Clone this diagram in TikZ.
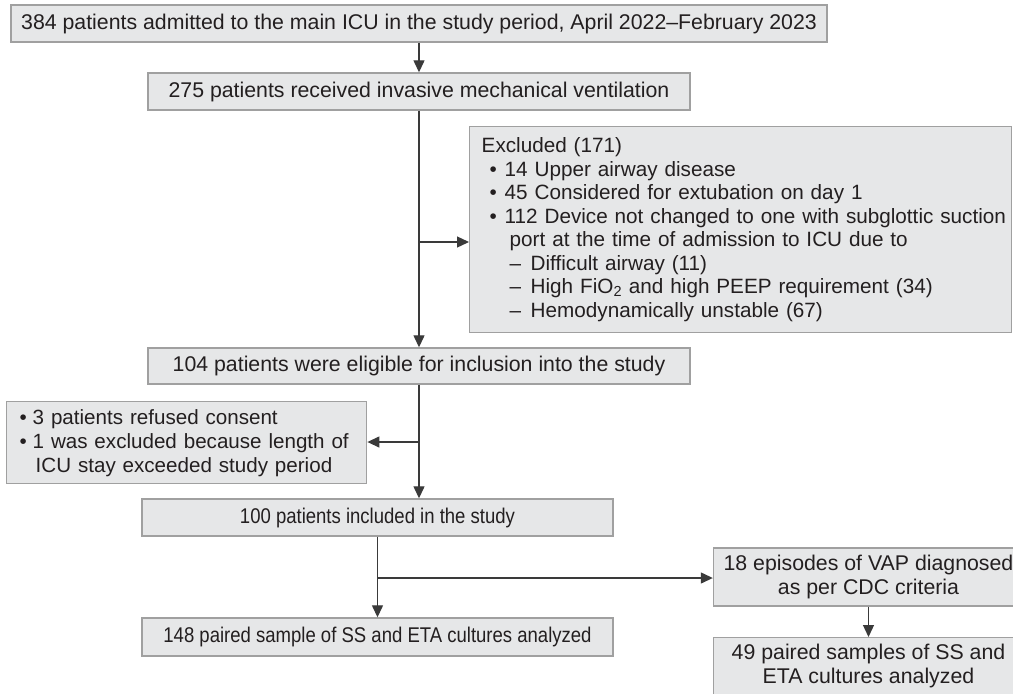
\documentclass[tikz,border=0pt]{standalone}
\usepackage{fontspec}
\setmainfont{Liberation Sans}
\newfontfamily\condfont[FakeStretch=0.87]{Liberation Sans}
\usetikzlibrary{arrows.meta}
\definecolor{boxfill}{HTML}{E6E7E8}
\definecolor{boxline}{HTML}{A0A0A0}
\definecolor{linecol}{HTML}{3A3A3A}
\definecolor{txt}{HTML}{231F20}
\newcommand{\bul}[1]{\makebox[#1][l]{•}}
\newcommand{\exline}[2]{\mbox{\hspace*{#1}#2}}
\begin{document}
\begin{tikzpicture}[x=1pt,y=-1pt,
  box/.style={draw=boxline, fill=boxfill, line width=1.4pt, inner sep=0pt, text=txt,
              font=\fontsize{21.3}{24}\selectfont, align=center},
  lbox/.style={box, anchor=north west, align=left},
  plain/.style={inner sep=0pt, text=txt, font=\fontsize{21.3}{24}\selectfont, align=center},
  conn/.style={draw=linecol, line width=1.3pt},
  arr/.style={conn, -{Triangle[length=12pt,width=11pt]}}]
\clip (0,0) rectangle (1013,694);
\fill[white] (0,0) rectangle (1013,694);

\node[box, minimum width=816pt, minimum height=37pt] (top) at (419,23.5)
  {384 patients admitted to the main ICU in the study period, April 2022--February 2023};
\node[box, minimum width=542pt, minimum height=37pt] (b275) at (419,91.5)
  {275 patients received invasive mechanical ventilation};
\node[lbox, inner xsep=0pt, text width=542pt, minimum height=206pt,
      font=\fontsize{20.7}{23.5}\selectfont] (excl) at (469,126)
  {\exline{12pt}{Excluded (171)}\\
   \exline{20pt}{\bul{15pt}14 Upper airway disease}\\
   \exline{20pt}{\bul{15pt}45 Considered for extubation on day 1}\\
   \exline{20pt}{\bul{15pt}112 Device not changed to one with subglottic suction}\\
   \exline{40pt}{port at the time of admission to ICU due to}\\
   \exline{40pt}{\makebox[21pt][l]{--}Difficult airway (11)}\\
   \exline{40pt}{\makebox[21pt][l]{--}High FiO\textsubscript{2} and high PEEP requirement (34)}\\
   \exline{40pt}{\makebox[21pt][l]{--}Hemodynamically unstable (67)}};
\node[box, minimum width=542pt, minimum height=36pt] (b104) at (419,366)
  {104 patients were eligible for inclusion into the study};
\node[lbox, inner xsep=13pt, text width=334pt, minimum height=82pt,
      font=\fontsize{20.6}{24}\selectfont] (left) at (6,401)
  {\bul{13pt}3 patients refused consent\\
   \bul{13pt}1 was excluded because length of\\
   \hspace*{16pt}ICU stay exceeded study period};
\node[box, minimum width=471pt, minimum height=37pt,
      font=\condfont\fontsize{21.3}{24}\selectfont] (b100) at (377.5,517.5)
  {100 patients included in the study};
\node[box, minimum width=471pt, minimum height=38pt,
      font=\condfont\fontsize{21.3}{24}\selectfont] (b148) at (377.5,637)
  {148 paired sample of SS and ETA cultures analyzed};
\node[box, minimum width=310pt, minimum height=58pt] (vap) at (868.5,577)
  {18 episodes of VAP diagnosed\\as per CDC criteria};
\node[box, anchor=north, minimum width=310pt, minimum height=80pt] (b49) at (868.5,637) {};
\node[plain, anchor=north] (b49t) at ([yshift=-7pt]b49.north)
  {49 paired samples of SS and\\ETA cultures analyzed};

\coordinate (j1) at (419,242);
\coordinate (j2) at (419,442);
\coordinate (j3) at (377.5,578);

\draw[arr] (top.south) -- (b275.north);
\draw[arr] (b275.south) -- (b104.north);
\draw[arr] (j1) -- (j1 -| excl.west);
\draw[arr] (b104.south) -- (b104.south |- b100.north);
\draw[arr] (j2) -- (j2 -| left.east);
\draw[arr] (b100.south) -- (b148.north);
\draw[arr] (j3) -- (j3 -| vap.west);
\draw[arr] (vap.south) -- (vap.south |- b49.north);
\end{tikzpicture}
\end{document}
